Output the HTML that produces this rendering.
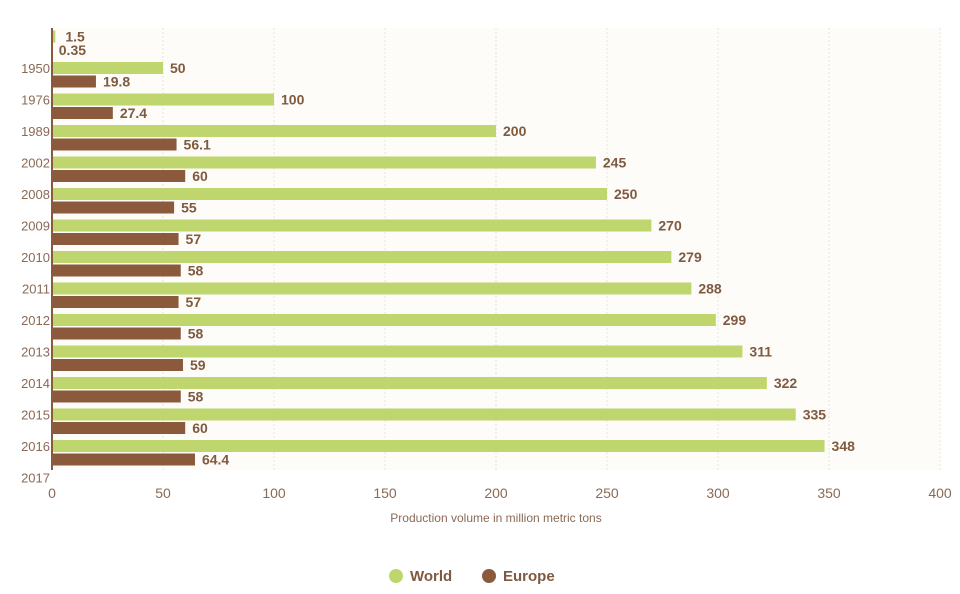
<!DOCTYPE html>
<html><head><meta charset="utf-8"><style>
html,body{margin:0;padding:0;background:#fff;}
svg{display:block;font-family:"Liberation Sans",sans-serif;}
</style></head><body>
<svg id="chart" width="960" height="594"></svg>
<script>
const years = ["1950","1976","1989","2002","2008","2009","2010","2011","2012","2013","2014","2015","2016","2017"];
const worldValues = [1.5,50,100,200,245,250,270,279,288,299,311,322,335,348];
const europeValues = [0.35,19.8,27.4,56.1,60,55,57,58,57,58,59,58,60,64.4];
const worldLabels = ["1.5","50","100","200","245","250","270","279","288","299","311","322","335","348"];
const europeLabels = ["0.35","19.8","27.4","56.1","60","55","57","58","57","58","59","58","60","64.4"];
const xTicks = [0,50,100,150,200,250,300,350,400];

const NS="http://www.w3.org/2000/svg";
const svg=document.getElementById('chart');
const x0=52, x1=940, xMax=400, yTop=36.5, step=31.5, barH=12;
const xs=v=>x0+(v/xMax)*(x1-x0);
const yWorld=i=>yTop+i*step;
function mk(t,a,txt){const e=document.createElementNS(NS,t);for(const k in a)e.setAttribute(k,a[k]);if(txt!==undefined)e.textContent=txt;svg.appendChild(e);return e;}

let bg=mk('rect',{x:x0,y:28,width:x1-x0,height:442,fill:'#fdfcf8'});



xTicks.forEach(t=>{
  if(t>0){let g=mk('line',{x1:xs(t),x2:xs(t),y1:28,y2:470,stroke:'#e8e4dc','stroke-dasharray':'2,2','stroke-width':1});
  
  }
  let l=mk('text',{x:xs(t),y:498,'text-anchor':'middle','font-size':14,fill:'#8a6a55'},String(t));
  
  
});

worldValues.forEach((v,i)=>{
  const yc=yWorld(i);
  let b=mk('rect',{x:x0,y:yc-barH/2,width:xs(v)-x0,height:barH,fill:'#bfd56e'});
  
  
  let t=mk('text',{x:xs(v)+(v<5?10:7),y:yc+5,'font-size':14,'font-weight':'bold',fill:'#7f5a40'},worldLabels[i]);
  
  
  const ye=yc+13.5, ev=europeValues[i];
  let e=mk('rect',{x:x0,y:ye-barH/2,width:xs(ev)-x0,height:barH,fill:'#8b5a3c'});
  
  
  let te=mk('text',{x:xs(ev)+(ev<5?6:7),y:ye+5,'font-size':14,'font-weight':'bold',fill:'#7f5a40'},europeLabels[i]);
  
  
});

years.forEach((y,k)=>{
  let t=mk('text',{x:x0-2,y:yWorld(k+1)+5,'text-anchor':'end','font-size':13,fill:'#8a6a55'},y);
  
  
});

let ax=mk('line',{x1:x0,x2:x0,y1:28,y2:470,stroke:'#8b5a3c','stroke-width':2});



let tt=mk('text',{x:496,y:522,'text-anchor':'middle','font-size':12,fill:'#8a6a55'},'Production volume in million metric tons');



let c1=mk('circle',{cx:396,cy:576,r:7,fill:'#bfd56e'});


let l1=mk('text',{x:410,y:581,'font-size':15,'font-weight':'bold',fill:'#7f5a40'},'World');


let c2=mk('circle',{cx:489,cy:576,r:7,fill:'#8b5a3c'});


let l2=mk('text',{x:503,y:581,'font-size':15,'font-weight':'bold',fill:'#7f5a40'},'Europe');


</script>
</body></html>
